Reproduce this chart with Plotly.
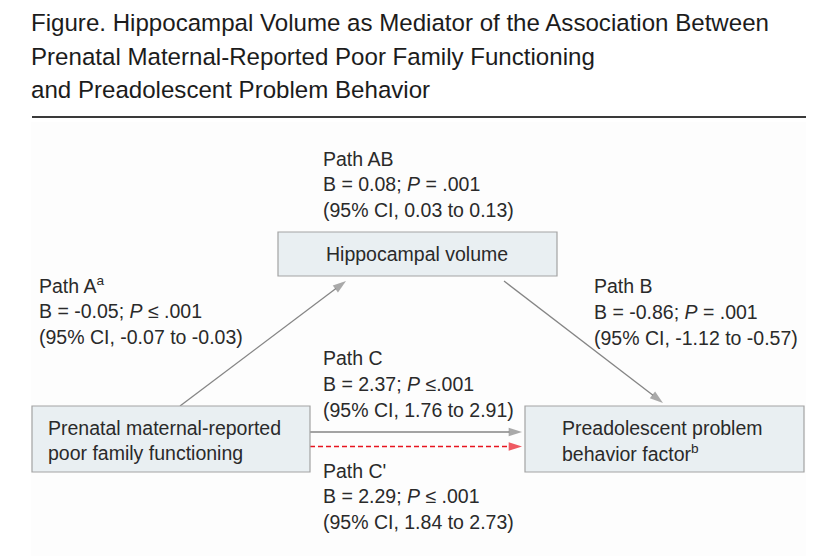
import plotly.graph_objects as go

# ---- content ----
title_lines = [
    "Figure. Hippocampal Volume as Mediator of the Association Between",
    "Prenatal Maternal-Reported Poor Family Functioning",
    "and Preadolescent Problem Behavior",
]
node_names = ["mediator", "exposure", "outcome"]
node_lines = [
    ["Hippocampal volume"],
    ["Prenatal maternal-reported", "poor family functioning"],
    ["Preadolescent problem", "behavior factor<sup>b</sup>"],
]
path_labels = ["Path AB", "Path A<sup>a</sup>", "Path B", "Path C", "Path C'"]
b_values = [0.08, -0.05, -0.86, 2.37, 2.29]
p_text = ["= .001", "≤ .001", "= .001", "≤.001", "≤ .001"]
ci_low = [0.03, -0.07, -1.12, 1.76, 1.84]
ci_high = [0.13, -0.03, -0.57, 2.91, 2.73]

# ---- layout geometry (pixel-like axis units of the reference) ----
W, H = 828, 556
OFF = 8          # page body margin of the html page
PAD = 3          # annotation inner padding
boxes = {  # x0, x1, y0, y1
    "mediator": (278, 557, 232, 276),
    "exposure": (32, 310, 406, 472),
    "outcome": (525, 804, 406, 472),
}
node_text_pos = {  # anchor x, xanchor, first line y
    "mediator": (417, "center", 254),
    "exposure": (49, "left", 428),
    "outcome": (563, "left", 428),
}
label_pos = [(324, 158.5), (40, 285), (595, 286), (324, 358), (324, 470.5)]
line_gap = 25.8

TEXT = "#2a2a2a"
FONT = "Liberation Sans"
FS = 19.5
GRAY = "#858585"
RED = "#e8141f"

fig = go.Figure()
shapes = []
annotations = []

# faint panel, blue bar, rule, right edge
shapes.append(dict(type="rect", x0=31, x1=806, y0=122, y1=H, fillcolor="#fdfdfd",
                   line_width=0, layer="below"))
shapes.append(dict(type="rect", x0=32, x1=806, y0=0, y1=3.2, fillcolor="#1d8cc4", line_width=0))
shapes.append(dict(type="line", x0=32, x1=806, y0=117, y1=117, line=dict(color="#3a3a3a", width=2)))
shapes.append(dict(type="rect", x0=825.5, x1=828, y0=0, y1=H, fillcolor="#111111", line_width=0))

title_y = [22.5, 56, 89.5]
for t, y in zip(title_lines, title_y):
    annotations.append(dict(x=32 - PAD, y=y, text=t, showarrow=False, xanchor="left", yanchor="middle",
                            font=dict(family=FONT, size=24.1, color="#1c1c1c")))

for name, lines in zip(node_names, node_lines):
    x0, x1, y0, y1 = boxes[name]
    shapes.append(dict(type="rect", x0=x0, x1=x1, y0=y0, y1=y1, fillcolor="#e9eff2",
                       line=dict(color="#a3a3a3", width=1.2)))
    tx, xa, ty = node_text_pos[name]
    if xa == "left":
        tx -= PAD
    for i, ln in enumerate(lines):
        annotations.append(dict(x=tx, y=ty + i * 24.5, text=ln, showarrow=False, xanchor=xa,
                                yanchor="middle", font=dict(family=FONT, size=FS, color=TEXT)))

for lab, b, p, lo, hi, (lx, ly) in zip(path_labels, b_values, p_text, ci_low, ci_high, label_pos):
    lines = [lab, f"B = {b:.2f}; <i>P</i> {p}", f"(95% CI, {lo:.2f} to {hi:.2f})"]
    for i, ln in enumerate(lines):
        annotations.append(dict(x=lx - PAD, y=ly + i * line_gap, text=ln, showarrow=False,
                                xanchor="left", yanchor="middle",
                                font=dict(family=FONT, size=FS, color=TEXT)))

# arrows between boxes: (tail x, tail y, head x, head y, color, dash)
arrows = [
    (180, 406, 346, 281, GRAY, "solid"),     # path A
    (504, 281, 663, 403, GRAY, "solid"),     # path B
    (310, 432, 522, 432, GRAY, "solid"),     # path C
    (310, 446.5, 522, 446.5, RED, "5px,3px"),  # path C'
]
for x0, y0, x1, y1, c, d in arrows:
    fig.add_trace(go.Scatter(
        x=[x0, x1], y=[y0, y1], mode="lines+markers",
        line=dict(color=c, width=1.3, dash=d),
        marker=dict(symbol="arrow", size=[0, 14], angleref="previous", color=c,
                    line=dict(width=0)),
        hoverinfo="skip", showlegend=False,
    ))

fig.update_layout(
    width=W - OFF, height=H - OFF, margin=dict(l=0, r=0, t=0, b=0),
    paper_bgcolor="white", plot_bgcolor="white",
    xaxis=dict(range=[OFF, W], visible=False, fixedrange=True),
    yaxis=dict(range=[H, OFF], visible=False, fixedrange=True),
    shapes=shapes, annotations=annotations, showlegend=False,
)
fig.write_html("out.html")
